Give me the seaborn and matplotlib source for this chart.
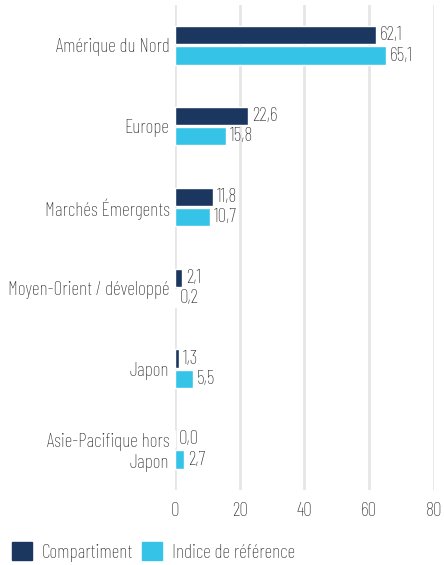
import pandas as pd
import matplotlib.pyplot as plt
import seaborn as sns

# Data
regions = ["Amérique du Nord", "Europe", "Marchés Émergents",
           "Moyen-Orient / développé", "Japon", "Asie-Pacifique hors\nJapon"]
fund = [62.1, 22.6, 11.8, 2.1, 1.3, 0.0]
benchmark = [65.1, 15.8, 10.7, 0.2, 5.5, 2.7]
series = ["Compartiment", "Indice de référence"]
xticks = [0, 20, 40, 60, 80]

colors = ["#1b365f", "#35c4e8"]
text_color = "#2b2b2b"

df = pd.DataFrame({
    "Région": regions * 2,
    "Valeur": fund + benchmark,
    "Série": [series[0]] * len(regions) + [series[1]] * len(regions),
})

sns.set_style("white")
plt.rcParams["font.family"] = ["Barlow Condensed", "Roboto Condensed", "DejaVu Sans"]
plt.rcParams["font.weight"] = "light"

fig = plt.figure(figsize=(4.44, 5.65), dpi=100)
ax = fig.add_axes([0.394, 0.133, 0.583, 0.858])

sns.barplot(data=df, x="Valeur", y="Région", hue="Série", order=regions,
            hue_order=series, palette=colors, orient="h",
            width=0.5, gap=0.1, ax=ax, legend=True, saturation=1)

# value labels with comma decimal
for cont, vals in zip(ax.containers, [fund, benchmark]):
    labels = [f"{v:.1f}".replace(".", ",") for v in vals]
    ax.bar_label(cont, labels=labels, padding=3, fontsize=14, color=text_color)

ax.set_xlim(0, 80)
ax.set_ylim(5.5, -0.5)
ax.set_xticks(xticks)
ax.set_xlabel("")
ax.set_ylabel("")
ax.grid(axis="x", color="#e6e6e6", linewidth=2)
ax.set_axisbelow(True)
for s in ax.spines.values():
    s.set_visible(False)
ax.tick_params(axis="both", length=0, labelsize=14, labelcolor=text_color)
ax.tick_params(axis="x", pad=9)
ax.tick_params(axis="y", pad=4)
for lab in ax.get_yticklabels():
    lab.set_horizontalalignment("right")
    lab.set_multialignment("right")

ax.get_legend().remove()
handles = [plt.Rectangle((0, 0), 1, 1, color=c) for c in colors]
fig.legend(handles, series, loc="lower left", bbox_to_anchor=(0.01, -0.008),
           ncol=2, frameon=False, fontsize=14, labelcolor=text_color,
           handlelength=1.0, handleheight=1.0, handletextpad=0.5,
           columnspacing=0.5, borderaxespad=0.0)

fig.savefig("out.png", dpi=100)
